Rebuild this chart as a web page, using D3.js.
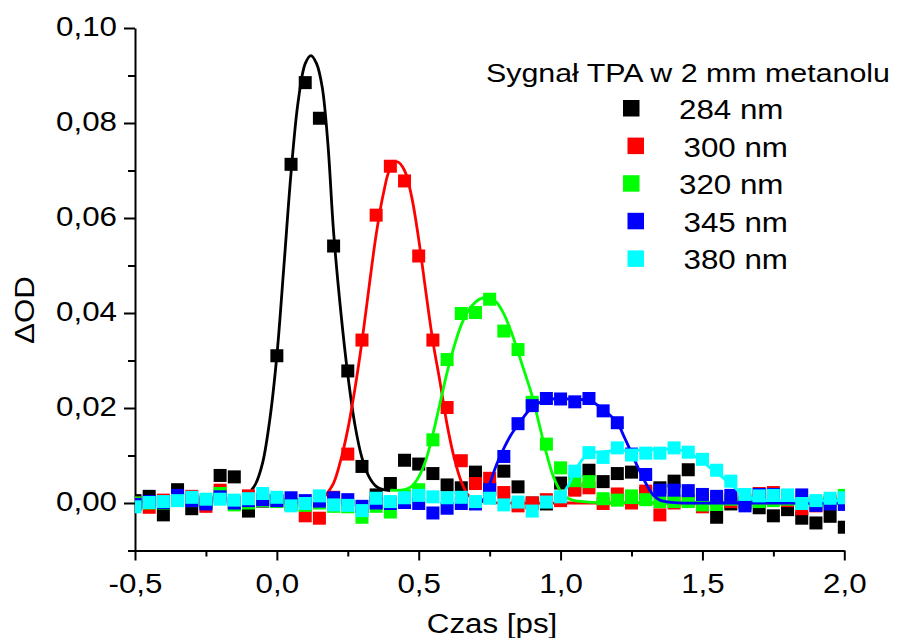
<!DOCTYPE html>
<html>
<head>
<meta charset="utf-8">
<script src="https://cdn.jsdelivr.net/npm/d3@7"></script>
<style>
  body { margin: 0; background: #fff; }
  text { font-family: "Liberation Sans", Arial, sans-serif; fill: #000; }
</style>
</head>
<body>
<div id="chart"></div>
<script>
// sampling times (ps)
const times = [-0.5, -0.45, -0.4, -0.35, -0.3, -0.25, -0.2, -0.15, -0.1, -0.05,
  0, 0.05, 0.1, 0.15, 0.2, 0.25, 0.3, 0.35, 0.4, 0.45,
  0.5, 0.55, 0.6, 0.65, 0.7, 0.75, 0.8, 0.85, 0.9, 0.95,
  1, 1.05, 1.1, 1.15, 1.2, 1.25, 1.3, 1.35, 1.4, 1.45,
  1.5, 1.55, 1.6, 1.65, 1.7, 1.75, 1.8, 1.85, 1.9, 1.95, 2];

// measured dOD
const sig284 = [0.0005, 0.0014, -0.0025, 0.0028, -0.0012, 0.0002, 0.0058, 0.0055, -0.0017, 0.0004,
  0.031, 0.0713, 0.0885, 0.081, 0.0541, 0.0278, 0.0077, 0.0017, 0.0041, 0.009,
  0.0082, 0.0062, 0.0038, 0.0032, 0.0065, 0.003, 0.0067, 0.0034, 0.0, -0.0002,
  0.0042, 0.003, 0.0069, 0.0045, 0.0062, 0.0065, 0.002, 0.0032, 0.0046, 0.007,
  0.0005, -0.003, -0.0002, 0.0, -0.001, -0.0027, -0.0014, -0.0032, -0.0042, -0.0028, -0.0051];
const sig300 = [0.0, -0.0009, 0.0006, 0.001, 0.0014, -0.0007, 0.0027, 0.0, 0.0015, 0.0008,
  0.0004, -0.0003, -0.0027, -0.0032, 0.0012, 0.0103, 0.0343, 0.0606, 0.0709, 0.0678,
  0.052, 0.0343, 0.0201, 0.0089, 0.0041, 0.0052, 0.0022, -0.0006, 0.0, 0.0007,
  0.0005, 0.0027, 0.0032, -0.0001, 0.0019, 0.0, 0.0025, -0.0025, 0.0, 0.0005,
  -0.0008, 0.0008, 0.0003, 0.0006, 0.002, 0.0022, 0.0005, -0.0012, -0.0006, 0.0004, 0.001];
const sig320 = [0.0, 0.0, 0.0, 0.0008, 0.0005, 0.0, 0.002, -0.0004, 0.0, 0.0005,
  0.0003, -0.0003, -0.0005, 0.0, -0.0007, -0.0008, -0.003, -0.0007, -0.0019, 0.0015,
  0.0028, 0.0133, 0.0302, 0.0399, 0.0401, 0.0429, 0.0362, 0.0323, 0.0212, 0.0124,
  0.0074, 0.0047, 0.0045, 0.0009, 0.0006, 0.0015, 0.0007, 0.0003, 0.0003, 0.0003,
  -0.0004, -0.0003, 0.0008, 0.0, 0.0003, 0.0005, 0.0008, 0.0, 0.0002, 0.0, 0.0016];
const sig345 = [-0.0003, 0.0003, 0.0001, 0.0016, 0.0005, -0.0002, 0.0013, 0.0, 0.0005, 0.0007,
  0.0005, 0.0011, 0.0005, 0.0004, 0.0011, 0.0007, -0.0007, 0.0, -0.0001, 0.0001,
  -0.0001, -0.0021, -0.0011, -0.0001, -0.0002, 0.0028, 0.0098, 0.0167, 0.0205, 0.022,
  0.0219, 0.0213, 0.022, 0.0194, 0.0169, 0.0103, 0.006, 0.0027, 0.0027, 0.0026,
  0.0018, 0.0014, 0.0016, -0.0006, 0.0018, 0.0018, 0.0012, 0.0017, -0.0005, -0.0002, -0.0003];
const sig380 = [-0.0008, 0.0001, 0.0003, 0.0005, 0.0012, 0.0008, 0.0008, 0.0006, 0.0009, 0.002,
  0.0012, -0.0006, -0.0001, 0.0015, -0.0004, -0.0005, -0.0016, 0.001, 0.0003, 0.0011,
  0.0016, 0.0013, 0.0011, 0.0012, 0.0003, 0.001, -0.0004, 0.0002, -0.0017, 0.0002,
  0.0013, 0.0067, 0.0106, 0.0096, 0.0116, 0.0101, 0.0105, 0.0105, 0.0116, 0.0107,
  0.0092, 0.0069, 0.0046, 0.0018, 0.0015, 0.0016, 0.0017, -0.0001, 0.0005, 0.001, 0.0011];

// fitted curves
const fit284T = [-0.09, -0.075, -0.05, -0.025, 0, 0.025, 0.05, 0.075, 0.1, 0.12, 0.14, 0.16, 0.18, 0.2, 0.225, 0.25, 0.275, 0.3, 0.325, 0.35, 0.375, 0.4];
const fit284 = [0.0027, 0.004, 0.0085, 0.0175, 0.031, 0.05, 0.0695, 0.0845, 0.0925, 0.0942, 0.0925, 0.0875, 0.0755, 0.057, 0.0405, 0.027, 0.0165, 0.0095, 0.0055, 0.0035, 0.0028, 0.0026];
const fit300T = [0.17, 0.2, 0.225, 0.25, 0.275, 0.3, 0.325, 0.35, 0.375, 0.4, 0.425, 0.45, 0.475, 0.5, 0.525, 0.55, 0.575, 0.6, 0.625, 0.65, 0.675, 0.7, 0.75, 0.8, 1.0, 1.5, 2.0];
const fit300 = [0.0015, 0.0042, 0.009, 0.0155, 0.024, 0.034, 0.0455, 0.0565, 0.065, 0.0705, 0.0718, 0.07, 0.0645, 0.0555, 0.0445, 0.034, 0.0255, 0.0165, 0.0095, 0.0045, 0.0016, 0.0006, 0.0001, 0, 0, 0, 0];
const fit320T = [0.4, 0.45, 0.475, 0.5, 0.525, 0.55, 0.575, 0.6, 0.625, 0.65, 0.675, 0.7, 0.725, 0.75, 0.775, 0.8, 0.825, 0.85, 0.875, 0.9, 0.925, 0.95, 0.975, 1.0, 1.025, 1.05, 1.1, 1.2, 1.5, 2.0];
const fit320 = [0.0027, 0.0028, 0.0035, 0.0055, 0.009, 0.0145, 0.021, 0.0275, 0.033, 0.0375, 0.0405, 0.0423, 0.0432, 0.0432, 0.0422, 0.0398, 0.0362, 0.0318, 0.0272, 0.0225, 0.0165, 0.0105, 0.0055, 0.0025, 0.001, 0.0005, 0.0002, 0.0001, 0, 0];
const fit345T = [0.7, 0.725, 0.75, 0.775, 0.8, 0.825, 0.85, 0.875, 0.9, 0.95, 1.0, 1.05, 1.1, 1.15, 1.2, 1.225, 1.25, 1.275, 1.3, 1.325, 1.35, 1.4, 1.6, 2.0];
const fit345 = [0.0, 0.0005, 0.004, 0.0082, 0.0115, 0.0143, 0.0165, 0.0185, 0.0202, 0.0217, 0.022, 0.0218, 0.0216, 0.0197, 0.0168, 0.0138, 0.0105, 0.0072, 0.0042, 0.0018, 0.0006, 0.0001, 0, 0];
const fit380T = [0.98, 1.0, 1.025, 1.05, 1.075, 1.1, 1.15, 1.2, 1.25, 1.3, 1.35, 1.4, 1.45, 1.475, 1.5, 1.525, 1.55, 1.575, 1.6, 1.625, 1.65, 1.7, 1.8, 2.0];
const fit380 = [0.0008, 0.0015, 0.0035, 0.0066, 0.009, 0.0104, 0.0108, 0.011, 0.0111, 0.0112, 0.0113, 0.0113, 0.0108, 0.0098, 0.0088, 0.0075, 0.0064, 0.0052, 0.004, 0.0026, 0.0015, 0.0007, 0.0005, 0.0005];

const seriesNames = ["284 nm", " 300 nm", "320 nm", " 345 nm", " 380 nm"];
const legendTitle = "Sygnał TPA w 2 mm metanolu";
const xTicks = [-0.5, 0, 0.5, 1, 1.5, 2];
const xTickLabels = ["-0,5", "0,0", "0,5", "1,0", "1,5", "2,0"];
const xMinor = [-0.25, 0.25, 0.75, 1.25, 1.75];
const yTicks = [0, 0.02, 0.04, 0.06, 0.08, 0.10];
const yTickLabels = ["0,00", "0,02", "0,04", "0,06", "0,08", "0,10"];
const yMinor = [-0.01, 0.01, 0.03, 0.05, 0.07, 0.09];

const colors = ["#000000", "#ff0000", "#00ff00", "#0000ff", "#00ffff"];
const signals = [sig284, sig300, sig320, sig345, sig380];
const fits = [[fit284T, fit284], [fit300T, fit300], [fit320T, fit320], [fit345T, fit345], [fit380T, fit380]];

let svgWidth = 899;
let svgHeight = 638;
const sx = 1.16; // text in the original is a bit wider than Arial
const fs = "27px";

let svg = d3.select("#chart").append("svg")
    .attr("width", svgWidth)
    .attr("height", svgHeight)
    .style("background", "#fff");

let x = d3.scaleLinear().domain([-0.5, 2.0]).range([135, 844.3]);
let y = d3.scaleLinear().domain([-0.01, 0.10]).range([550.5, 28]);

svg.append("clipPath").attr("id", "plotclip")
  .append("rect").attr("x", 135).attr("y", 0).attr("width", 710).attr("height", 560);

// Axes
let xAxisG = svg.append("g")
    .attr("transform", `translate(0, ${y.range()[0]})`)
    .call(d3.axisBottom(x).tickValues(xTicks).tickSize(10).tickSizeOuter(0).tickPadding(13)
      .tickFormat((d, i) => xTickLabels[i]));
svg.append("g")
    .attr("transform", `translate(0, ${y.range()[0]})`)
    .call(d3.axisBottom(x).tickValues(xMinor).tickSize(6).tickFormat(""))
    .call(g => g.select(".domain").remove());

let yAxisG = svg.append("g")
    .attr("transform", `translate(${x.range()[0]}, 0)`)
    .call(d3.axisLeft(y).tickValues(yTicks).tickSize(11).tickSizeOuter(0).tickPadding(4.5)
      .tickFormat((d, i) => yTickLabels[i]));
svg.append("g")
    .attr("transform", `translate(${x.range()[0]}, 0)`)
    .call(d3.axisLeft(y).tickValues(yMinor).tickSize(7).tickFormat(""))
    .call(g => g.select(".domain").remove());

svg.selectAll(".domain, .tick line").attr("stroke", "#000").attr("stroke-width", 2);
svg.selectAll(".tick text")
    .attr("font-size", fs)
    .attr("font-family", '"Liberation Sans", Arial, sans-serif')
    .attr("fill", "#000")
    .attr("transform", `scale(${sx},1)`);
yAxisG.selectAll(".tick text").attr("dy", "0.26em");

// Axis titles
svg.append("text")
    .attr("transform", `translate(492, 633) scale(${sx},1)`)
    .attr("text-anchor", "middle")
    .attr("font-size", fs)
    .text("Czas [ps]");

svg.append("text")
    .attr("transform", `translate(34, 310) rotate(-90) scale(${sx},1)`)
    .attr("text-anchor", "middle")
    .attr("font-size", fs)
    .text("ΔOD");

// Data: markers then fit, per series
let plot = svg.append("g").attr("clip-path", "url(#plotclip)");
const line = d3.line().x(d => x(d[0])).y(d => y(d[1])).curve(d3.curveCatmullRom);
const ms = 13;

signals.forEach((sig, k) => {
  plot.append("g").selectAll("rect")
    .data(sig.map((v, i) => [times[i], v]))
    .enter()
    .append("rect")
    .attr("x", d => x(d[0]) - ms / 2)
    .attr("y", d => y(d[1]) - ms / 2)
    .attr("width", ms)
    .attr("height", ms)
    .attr("fill", colors[k]);

  let [ft, fv] = fits[k];
  plot.append("path")
    .datum(ft.map((t, i) => [t, fv[i]]))
    .attr("d", line)
    .attr("fill", "none")
    .attr("stroke", colors[k])
    .attr("stroke-width", 2.8);
});

// Legend
svg.append("text")
    .attr("transform", `translate(486, 82) scale(${sx},1)`)
    .attr("font-size", "26px")
    .attr("textLength", 404 / sx)
    .attr("lengthAdjust", "spacingAndGlyphs")
    .text(legendTitle);

seriesNames.forEach((name, k) => {
  let nudge = name.startsWith(" ") ? 4.5 : 0;
  let cy = 108 + k * 37.6;
  svg.append("rect")
    .attr("x", 631 + nudge - 8)
    .attr("y", cy - 8)
    .attr("width", 16.5)
    .attr("height", 16.5)
    .attr("fill", colors[k]);
  svg.append("text")
    .attr("transform", `translate(${679 + nudge}, ${cy + 11}) scale(${sx},1)`)
    .attr("font-size", fs)
    .text(name.trim());
});
</script>
</body>
</html>
